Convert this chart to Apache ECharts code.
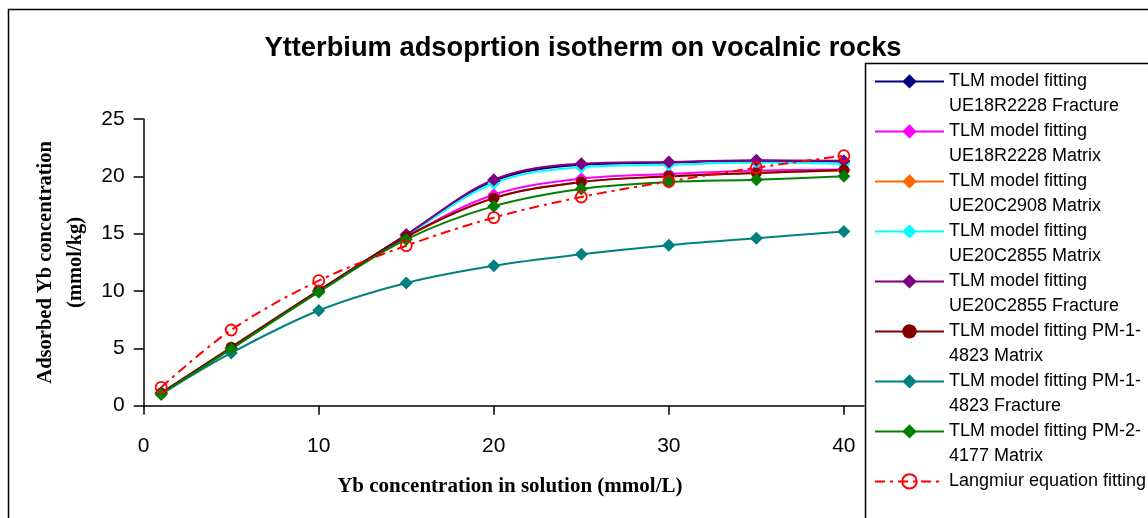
<!DOCTYPE html>
<html>
<head>
<meta charset="utf-8">
<script src="https://cdn.jsdelivr.net/npm/echarts@6/dist/echarts.min.js"></script>
<style>
  html, body { margin: 0; padding: 0; background: #ffffff; }
  #chart { width: 1148px; height: 518px; }
</style>
</head>
<body>
<div id="chart"></div>
<script>
// Yb concentration in solution (mmol/L)
const concentrations = [1, 5, 10, 15, 20, 25, 30, 35, 40];
const xTickValues = [0, 10, 20, 30, 40];

// Adsorbed Yb (mmol/kg) for each fitted sample
const ue18r2228Fracture = [1.1, 5.0, 10.0, 14.9, 19.6, 21.0, 21.2, 21.35, 21.3];
const ue18r2228Matrix   = [1.1, 5.0, 10.0, 14.7, 18.4, 19.8, 20.2, 20.5, 20.6];
const ue20c2908Matrix   = [1.1, 5.0, 10.0, 14.7, 18.1, 19.5, 20.0, 20.3, 20.5];
const ue20c2855Matrix   = [1.1, 5.0, 10.0, 14.8, 19.4, 20.8, 21.0, 21.2, 21.1];
const ue20c2855Fracture = [1.1, 5.0, 10.0, 14.9, 19.7, 21.1, 21.25, 21.4, 21.35];
const pm14823Matrix     = [1.1, 5.1, 10.05, 14.75, 18.1, 19.5, 20.0, 20.3, 20.55];
const pm14823Fracture   = [1.0, 4.6, 8.3, 10.7, 12.2, 13.2, 14.0, 14.6, 15.2];
const pm24177Matrix     = [1.0, 4.95, 9.9, 14.5, 17.4, 18.9, 19.5, 19.7, 20.0];
const langmuirFit       = [1.6, 6.6, 10.9, 13.95, 16.4, 18.2, 19.55, 20.75, 21.8];

const seriesNames = [
  'TLM model fitting UE18R2228 Fracture',
  'TLM model fitting UE18R2228 Matrix',
  'TLM model fitting UE20C2908 Matrix',
  'TLM model fitting UE20C2855 Matrix',
  'TLM model fitting UE20C2855 Fracture',
  'TLM model fitting PM-1-4823 Matrix',
  'TLM model fitting PM-1-4823 Fracture',
  'TLM model fitting PM-2-4177 Matrix',
  'Langmiur equation fitting'
];
const legendLabels = [
  'TLM model fitting\nUE18R2228 Fracture',
  'TLM model fitting\nUE18R2228 Matrix',
  'TLM model fitting\nUE20C2908 Matrix',
  'TLM model fitting\nUE20C2855 Matrix',
  'TLM model fitting\nUE20C2855 Fracture',
  'TLM model fitting PM-1-\n4823 Matrix',
  'TLM model fitting PM-1-\n4823 Fracture',
  'TLM model fitting PM-2-\n4177 Matrix',
  'Langmiur equation fitting'
];
const seriesValues = [
  ue18r2228Fracture, ue18r2228Matrix, ue20c2908Matrix, ue20c2855Matrix,
  ue20c2855Fracture, pm14823Matrix, pm14823Fracture, pm24177Matrix, langmuirFit
];
const seriesColors = ['#000080', '#FF00FF', '#FF6600', '#00FFFF', '#800080',
                      '#800000', '#008080', '#008000', '#FF0000'];
const seriesSymbols = ['diamond', 'diamond', 'diamond', 'diamond', 'diamond',
                       'circle', 'diamond', 'diamond', 'circle'];

const LINE_H = 24.6;
const sans = 'Liberation Sans, Arial, sans-serif';
const serif = 'Liberation Serif, Times New Roman, serif';

const series = seriesValues.map((vals, i) => {
  const isLangmuir = i === 8;
  return {
    name: seriesNames[i],
    type: 'line',
    smooth: 0.35,
    data: concentrations.map((c, k) => [c, vals[k]]),
    symbol: seriesSymbols[i],
    symbolSize: isLangmuir ? 11 : (seriesSymbols[i] === 'circle' ? 11 : 13),
    lineStyle: {
      color: seriesColors[i],
      width: 2,
      type: isLangmuir ? [10, 5, 3, 5] : 'solid'
    },
    itemStyle: isLangmuir
      ? { color: 'rgba(255,255,255,0)', borderColor: seriesColors[i], borderWidth: 1.8 }
      : { color: seriesColors[i] },
    emphasis: { disabled: true },
    animation: false
  };
});

// Legend text is vertically centred on the icon, so two-line entries get an
// empty leading line (the first text line then sits on the icon) and the
// single-line entry gets matching padding; every entry is three lines tall.
const isTwoLine = label => label.indexOf('\n') >= 0;
const legendData = seriesNames.map((name, i) => ({
  name: name,
  textStyle: isTwoLine(legendLabels[i])
    ? { padding: 0 }
    : { padding: [LINE_H, 0, LINE_H, 0] }
}));

const chart = echarts.init(document.getElementById('chart'), null, { renderer: 'canvas' });
chart.setOption({
  backgroundColor: '#ffffff',
  animation: false,
  title: {
    text: 'Ytterbium adsoprtion isotherm on vocalnic rocks',
    left: 578,
    top: 30,
    textAlign: 'center',
    textStyle: { fontFamily: sans, fontWeight: 'bold', fontSize: 27.3, color: '#000' }
  },
  graphic: [
    {
      type: 'rect', z: 0, silent: true,
      shape: { x: 8.5, y: 9.5, width: 1200, height: 600 },
      style: { fill: 'none', stroke: '#000', lineWidth: 1.5 }
    },
    {
      type: 'rect', z: 0, silent: true,
      shape: { x: 865.5, y: 63.5, width: 400, height: 600 },
      style: { fill: 'none', stroke: '#000', lineWidth: 1.5 }
    }
  ],
  legend: {
    orient: 'vertical',
    left: 874,
    top: 44.5,
    height: 1200,
    padding: 0,
    itemWidth: 69,
    itemHeight: 18,
    itemGap: -23.8,
    selectedMode: false,
    data: legendData,
    formatter: name => {
      const label = legendLabels[seriesNames.indexOf(name)];
      return isTwoLine(label) ? '\n' + label : label;
    },
    textStyle: { fontFamily: sans, fontSize: 18, color: '#000', lineHeight: LINE_H }
  },
  grid: { left: 143.7, top: 119, right: 284, bottom: 112.3, containLabel: false },
  xAxis: {
    type: 'value',
    min: 0,
    max: 41.15,
    name: 'Yb concentration in solution (mmol/L)',
    nameLocation: 'middle',
    nameGap: 70,
    nameTextStyle: { fontFamily: serif, fontWeight: 'bold', fontSize: 21, color: '#000', padding: [0, 0, 0, 12] },
    axisLine: { lineStyle: { color: '#000', width: 1.5 } },
    axisTick: { show: true, inside: false, length: 9, customValues: xTickValues, lineStyle: { color: '#000', width: 1.5 } },
    axisLabel: { customValues: xTickValues, margin: 30, fontFamily: sans, fontSize: 21, color: '#000' },
    splitLine: { show: false }
  },
  yAxis: {
    type: 'value',
    min: 0,
    max: 25,
    interval: 5,
    name: 'Adsorbed Yb concentration\n(mmol/kg)',
    nameLocation: 'middle',
    nameRotate: 90,
    nameGap: 52,
    nameTextStyle: { fontFamily: serif, fontWeight: 'bold', fontSize: 20.5, color: '#000', lineHeight: 30 },
    axisLine: { show: true, lineStyle: { color: '#000', width: 1.5 } },
    axisTick: { show: true, inside: false, length: 10, lineStyle: { color: '#000', width: 1.5 } },
    axisLabel: { margin: 19, fontFamily: sans, fontSize: 21, color: '#000' },
    splitLine: { show: false }
  },
  series: series
});
</script>
</body>
</html>
